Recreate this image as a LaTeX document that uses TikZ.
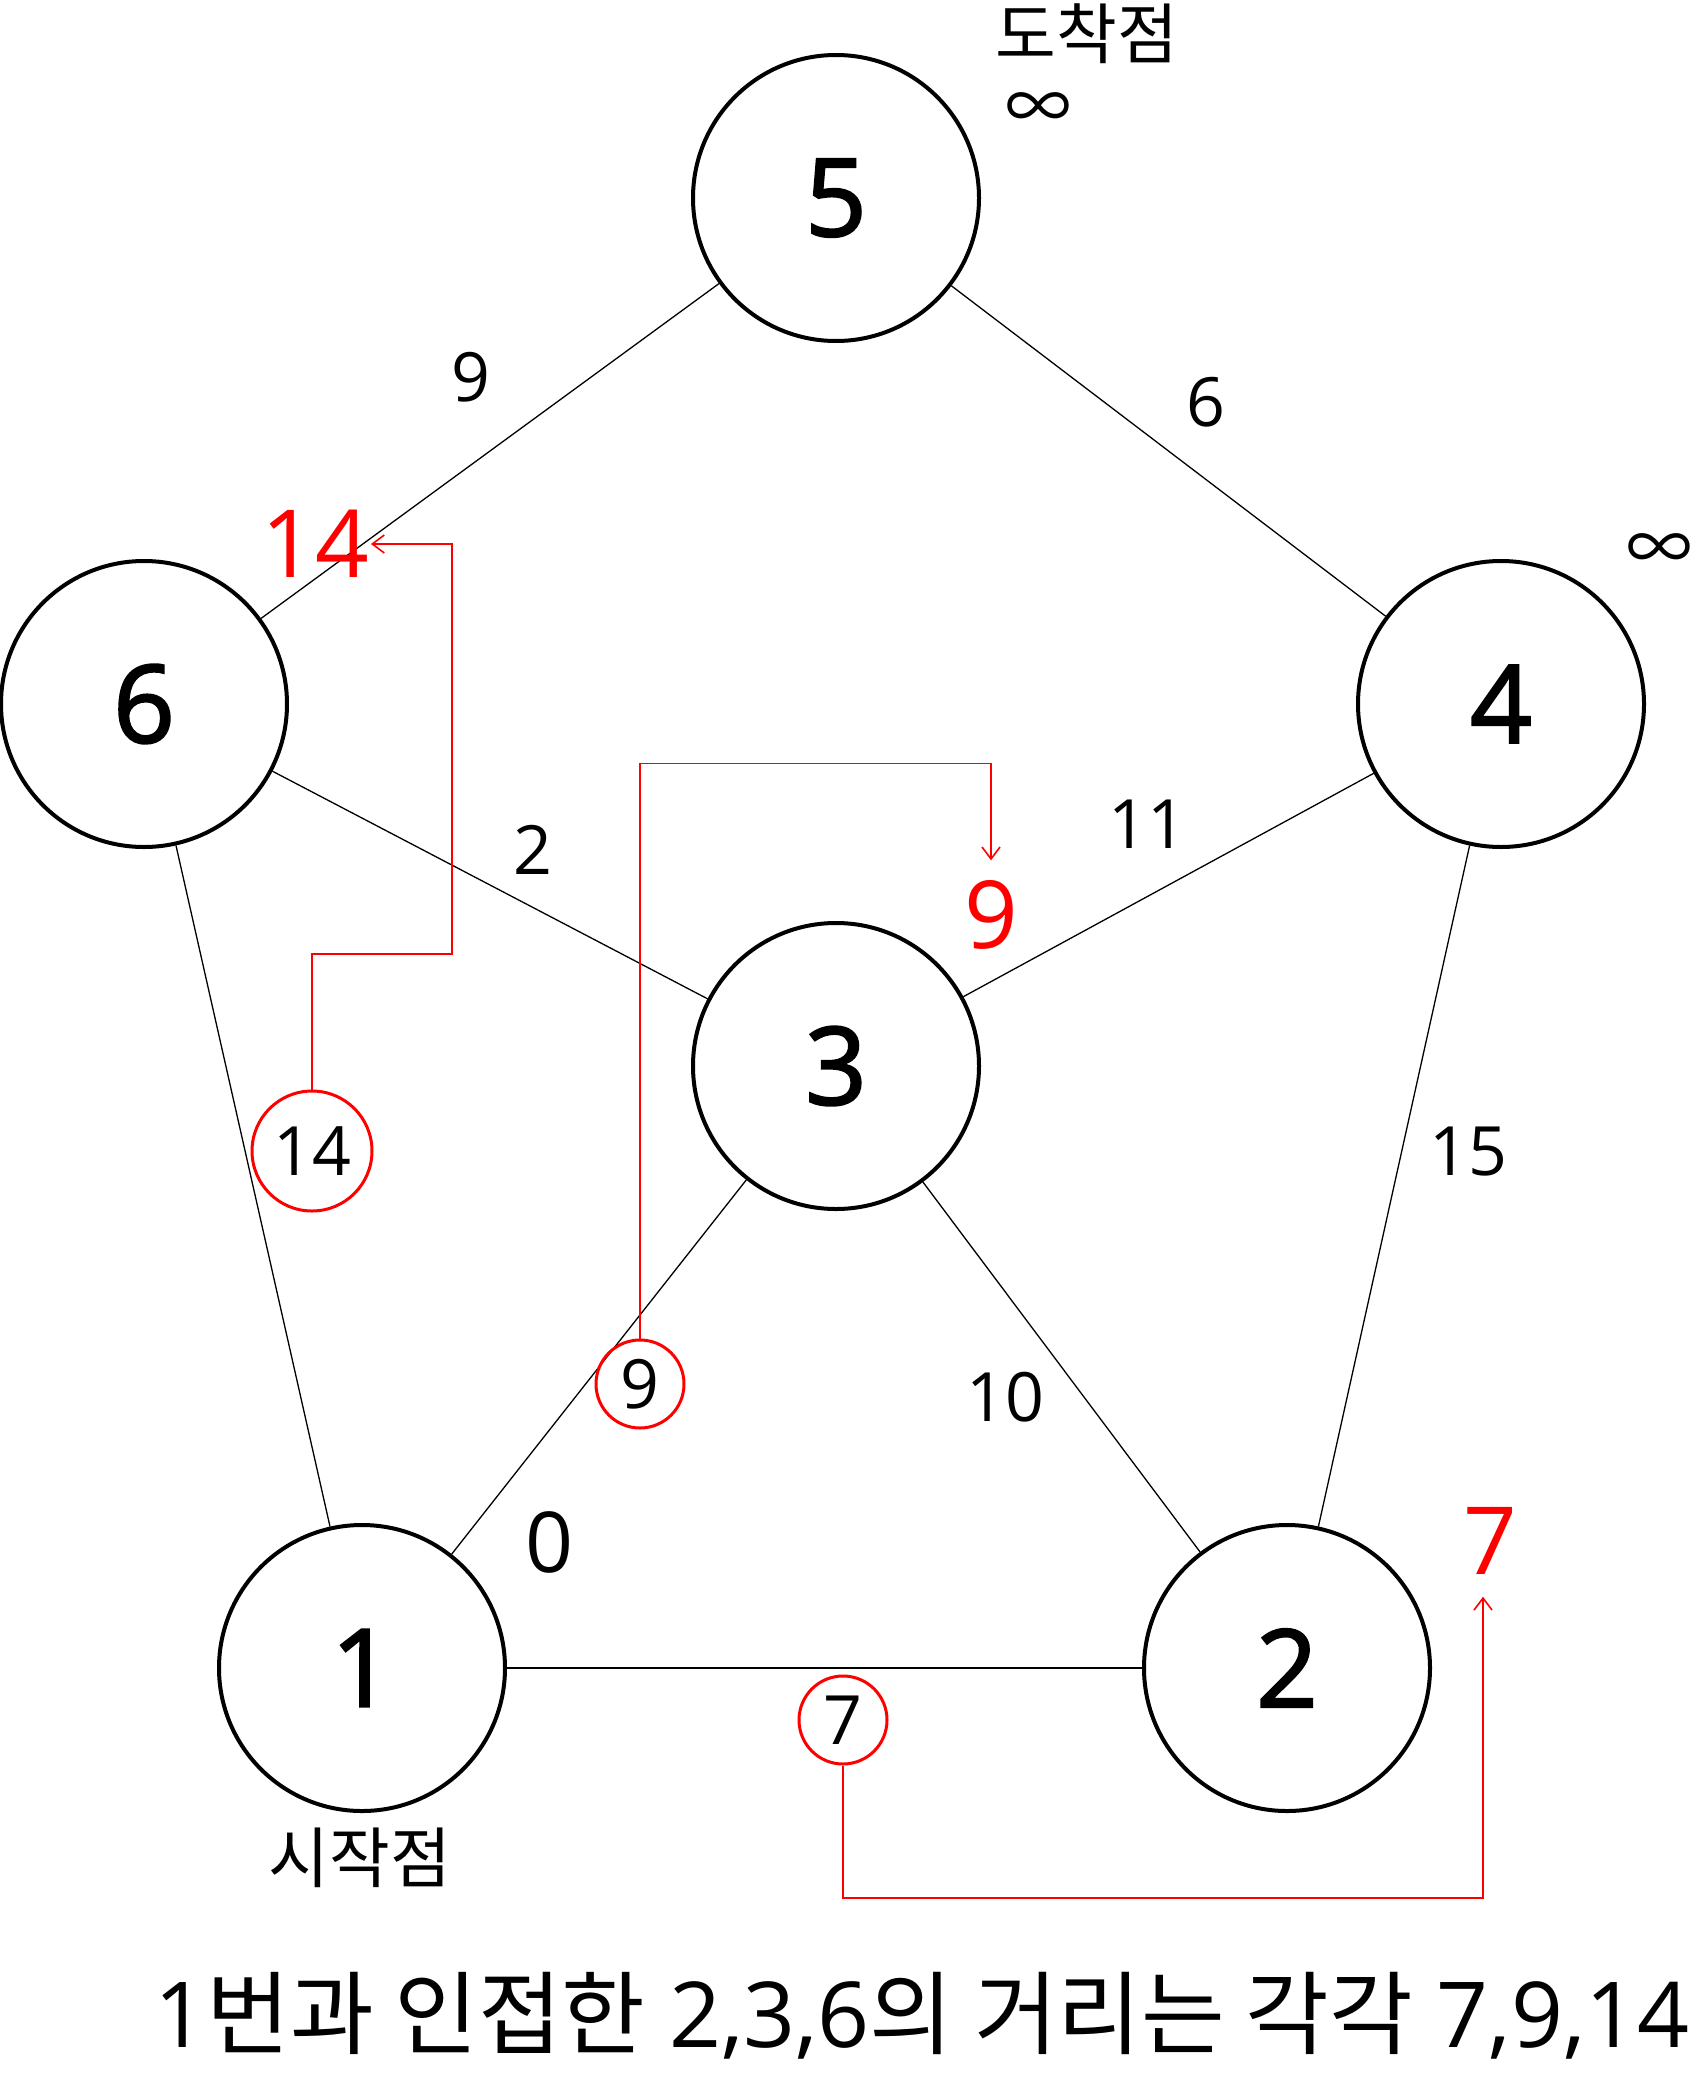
\documentclass[tikz,border=0pt]{standalone}
\usepackage{fontspec}
\setmainfont{Open Sans}
\newfontfamily\krfont{Noto Sans CJK KR}
\newfontfamily\numfont[FakeBold=2]{Open Sans}
\usetikzlibrary{arrows.meta,positioning}
\definecolor{MarkRed}{RGB}{255,0,0}
\tikzset{
  vnode/.style={draw,circle,line width=4pt,minimum size=286pt,inner sep=0pt,
                font=\numfont\fontsize{108}{108}\selectfont},
  edge/.style={line width=1.3pt},
  wlabel/.style={inner sep=2pt,font=\fontsize{68}{68}\selectfont},
  klabel/.style={inner sep=2pt,font=\krfont\fontsize{66}{66}\selectfont},
  dcircle/.style={draw=MarkRed,circle,line width=3pt,inner sep=0pt,
                  font=\fontsize{68}{68}\selectfont},
  rtext/.style={inner sep=2pt,text=MarkRed,font=\fontsize{94}{94}\selectfont},
  rarr/.style={-{Straight Barb[length=12pt,width=18pt]},MarkRed,line width=1.6pt},
}
\begin{document}
\begin{tikzpicture}[x=1pt,y=-1pt]
\useasboundingbox (0,0) rectangle (1693,2074);
% vertices
\node[vnode] (v5) at (836,198) {5};
\node[vnode] (v6) at (144,704) {6};
\node[vnode] (v4) at (1501,704) {4};
\node[vnode] (v3) at (836,1066) {3};
\node[vnode] (v1) at (362,1668) {1};
\node[vnode] (v2) at (1287,1668) {2};

\draw[edge] (v5) -- (v6);
\draw[edge] (v5) -- (v4);
\draw[edge] (v6) -- (v3);
\draw[edge] (v4) -- (v3);
\draw[edge] (v6) -- (v1);
\draw[edge] (v4) -- (v2);
\draw[edge] (v3) -- (v1);
\draw[edge] (v3) -- (v2);
\draw[edge, line width=1.8pt] (v1) -- (v2);

% weights
\node[wlabel] (w56) at (471,377) {9};
\node[wlabel] (w54) at (1206,402) {6};
\node[wlabel] (w63) at (533,850) {2};
\node[wlabel] (w43) at (1147,824) {11};
\node[wlabel] (w42) at (1468,1152) {15};
\node[wlabel] (w32) at (1005,1397) {10};
\node[wlabel, font=\fontsize{84}{84}\selectfont] (d1) at (550,1542) {0};

% start / goal
\node[klabel] (goal) at (1087,34) {도착점};
\node[klabel] (inf5) at (1038,112) {∞};
\node[klabel] (inf4) at (1659,553) {∞};
\node[klabel] (start) at (360,1858) {시작점};

% distances from 1
\node[dcircle, minimum size=120pt] (c14) at (312,1151) {14};
\node[dcircle, minimum size=88pt] (c9) at (640,1384) {9};
\node[dcircle, minimum size=88pt] (c7) at (843,1720) {7};

\node[rtext] (r14) at (315,544) {14};
\node[rtext] (r9) at (991,915) {9};
\node[rtext] (r7) at (1490,1541) {7};

\draw[rarr] (c14.north) |- (452,954) |- (r14.east);
\draw[rarr, shorten >=18pt] (c9.north) |- ([yshift=115pt]r9.north) -- (r9.north);
\draw[rarr, shorten >=20pt] (c7.south) |- (1483,1898) -- ([xshift=-7pt]r7.south);

\node[inner sep=0pt, font=\fontsize{91}{91}\selectfont] (note) at (922,2016)
  {1{\krfont 번과 인접한} 2,3,6{\krfont 의 거리는 각각} 7,9,14};
\end{tikzpicture}
\end{document}
